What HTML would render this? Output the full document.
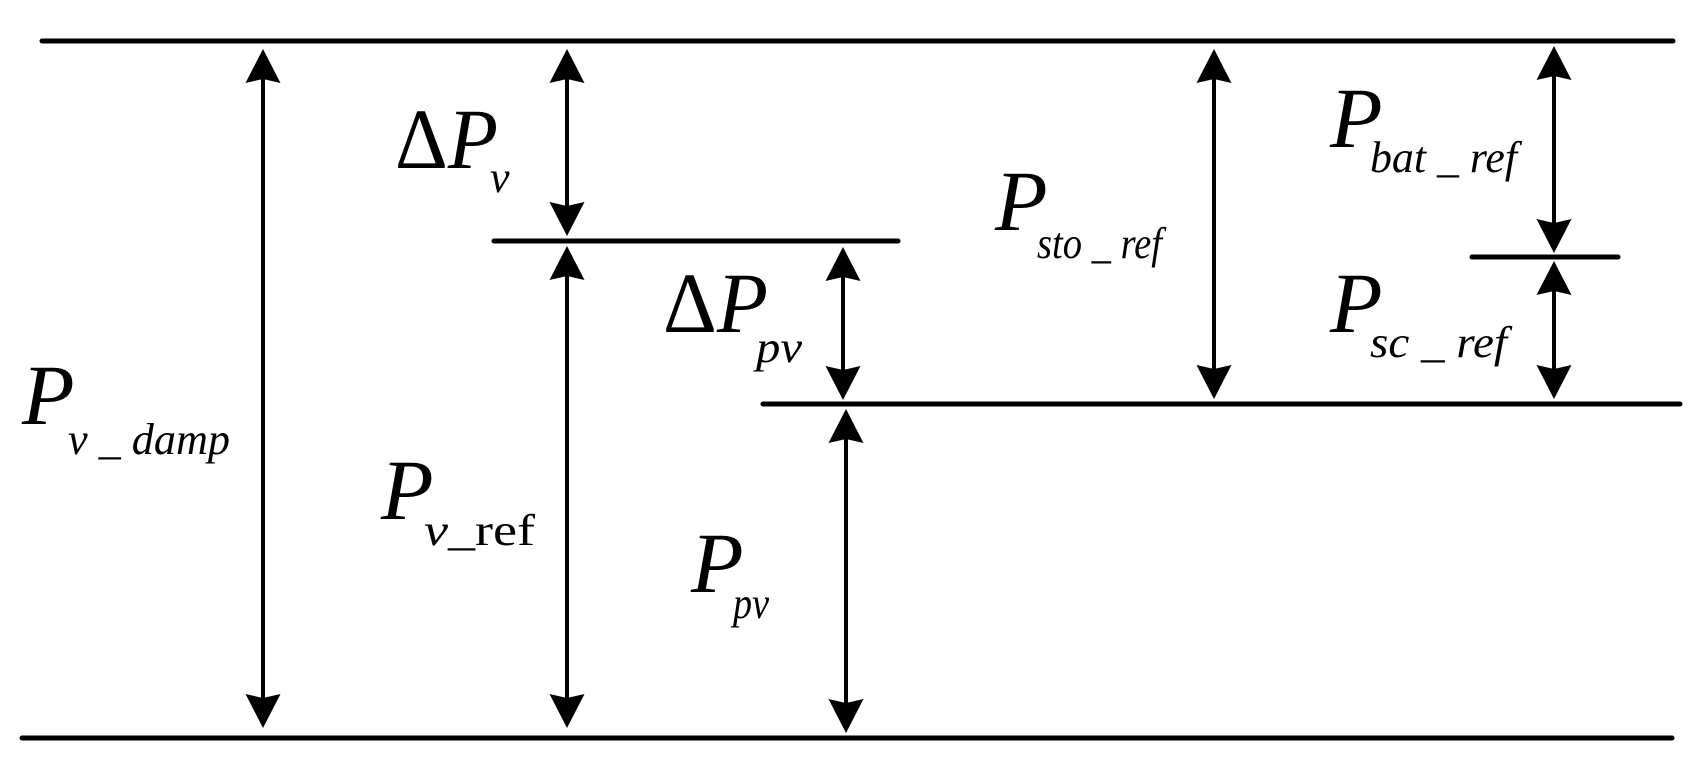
<!DOCTYPE html>
<html><head><meta charset="utf-8"><style>
html,body{margin:0;padding:0;background:#fff;}
svg{display:block;}
text{font-family:"Liberation Serif",serif;font-style:italic;fill:#000;}
</style></head><body>
<svg width="1706" height="771" viewBox="0 0 1706 771" xmlns="http://www.w3.org/2000/svg">
<defs>
<path id="hu" d="M0,0 L17.5,34 L0,30 L-17.5,34 Z"/>
<path id="hd" d="M0,0 L17.5,-34 L0,-30 L-17.5,-34 Z"/>
</defs>
<g stroke="#000" stroke-width="5" stroke-linecap="round">
<line x1="42" y1="41" x2="1673" y2="41"/>
<line x1="22" y1="738" x2="1672" y2="738"/>
<line x1="494" y1="241" x2="898" y2="241"/>
<line x1="763" y1="404" x2="1680" y2="404"/>
<line x1="1472" y1="257" x2="1618" y2="257"/>
</g>
<g stroke="#000" stroke-width="4">
<line x1="263" y1="70" x2="263" y2="710"/>
<line x1="567" y1="70" x2="567" y2="215"/>
<line x1="567" y1="266" x2="567" y2="710"/>
<line x1="843" y1="266" x2="843" y2="380"/>
<line x1="846" y1="430" x2="846" y2="714"/>
<line x1="1214" y1="70" x2="1214" y2="378"/>
<line x1="1554" y1="68" x2="1554" y2="232"/>
<line x1="1554" y1="282" x2="1554" y2="378"/>
</g>
<g fill="#000">
<use href="#hu" x="263" y="49"/><use href="#hd" x="263" y="728"/>
<use href="#hu" x="567" y="49"/><use href="#hd" x="567" y="236"/>
<use href="#hu" x="567" y="246"/><use href="#hd" x="567" y="728"/>
<use href="#hu" x="843" y="247"/><use href="#hd" x="843" y="400"/>
<use href="#hu" x="846" y="409"/><use href="#hd" x="846" y="733"/>
<use href="#hu" x="1214" y="49"/><use href="#hd" x="1214" y="399"/>
<use href="#hu" x="1554" y="46"/><use href="#hd" x="1554" y="253"/>
<use href="#hu" x="1554" y="261"/><use href="#hd" x="1554" y="399"/>
</g>
<!-- P_v_damp -->
<text x="22" y="424" font-size="86">P</text>
<text x="68" y="454" font-size="44" textLength="162" lengthAdjust="spacingAndGlyphs">v _ damp</text>
<!-- ΔP_v -->
<text x="395" y="168" font-size="86" textLength="103" lengthAdjust="spacingAndGlyphs"><tspan font-style="normal">Δ</tspan>P</text>
<text x="490" y="192" font-size="44">v</text>
<!-- P_v_ref -->
<text x="381" y="519" font-size="86">P</text>
<text x="424" y="545" font-size="44" textLength="111" lengthAdjust="spacingAndGlyphs">v<tspan font-style="normal">_ref</tspan></text>
<!-- ΔP_pv -->
<text x="663" y="332" font-size="86" textLength="105" lengthAdjust="spacingAndGlyphs"><tspan font-style="normal">Δ</tspan>P</text>
<text x="756" y="362" font-size="44" textLength="46" lengthAdjust="spacingAndGlyphs">pv</text>
<!-- P_pv -->
<text x="691" y="592" font-size="86">P</text>
<text x="733" y="618" font-size="44" textLength="36" lengthAdjust="spacingAndGlyphs">pv</text>
<!-- P_sto_ref -->
<text x="995" y="230" font-size="86">P</text>
<text x="1037" y="258" font-size="44" textLength="125" lengthAdjust="spacingAndGlyphs">sto _ ref</text>
<!-- P_bat_ref -->
<text x="1330" y="147" font-size="86">P</text>
<text x="1370" y="172" font-size="44" textLength="147" lengthAdjust="spacingAndGlyphs">bat _ ref</text>
<!-- P_sc_ref -->
<text x="1330" y="332" font-size="86">P</text>
<text x="1370" y="357" font-size="44" textLength="137" lengthAdjust="spacingAndGlyphs">sc _ ref</text>
</svg>
</body></html>
